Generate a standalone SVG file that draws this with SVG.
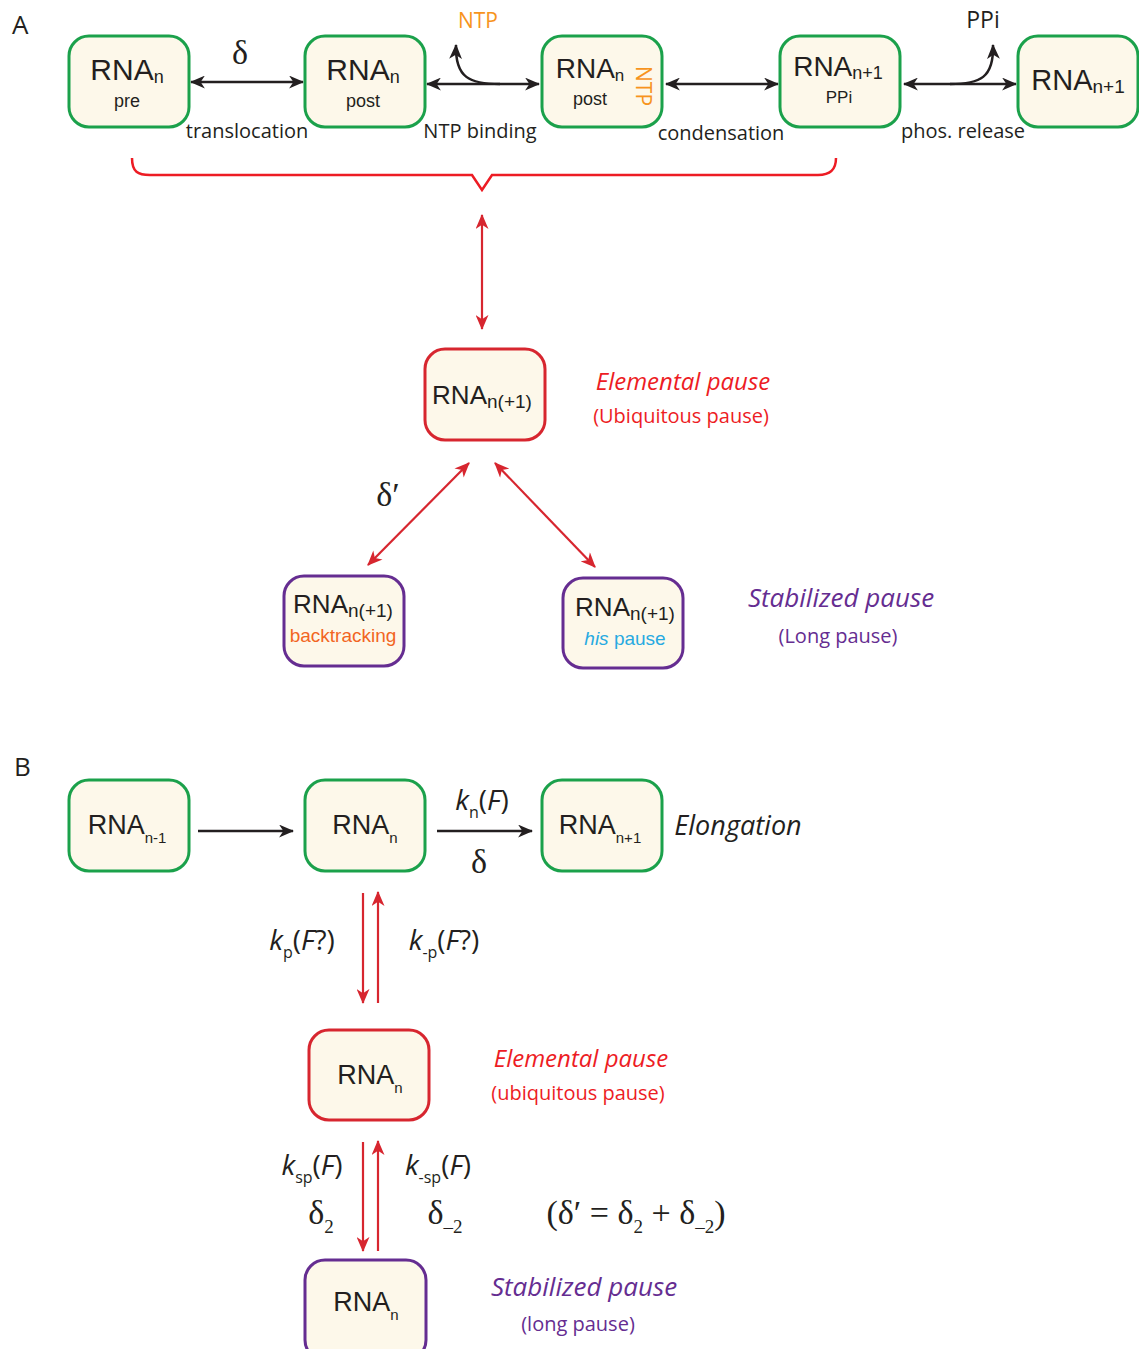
<svg xmlns="http://www.w3.org/2000/svg" width="1139" height="1349" viewBox="0 0 1139 1349">
<defs>
<marker id="ab" viewBox="0 0 14 12" refX="13" refY="6" markerWidth="15" markerHeight="13" markerUnits="userSpaceOnUse" orient="auto-start-reverse"><path d="M0,0 L14,6 L0,12 L4,6 Z" fill="#231f20"/></marker>
<marker id="ar" viewBox="0 0 14 12" refX="13" refY="6" markerWidth="16" markerHeight="13" markerUnits="userSpaceOnUse" orient="auto-start-reverse"><path d="M0,0 L14,6 L0,12 L4,6 Z" fill="#d7262f"/></marker>
</defs>
<style>
.box{fill:#fdf8ea;stroke-width:3}
.g{stroke:#1ba14b}.r{stroke:#d7262f}.p{stroke:#652d91}
.rna{font-family:"Liberation Sans",Arial,sans-serif;fill:#231f20}
.lab{font-family:"Open Sans","Noto Sans",sans-serif;fill:#231f20}
.gr{font-family:"Liberation Serif","Times New Roman",serif;fill:#231f20}
.bl{stroke:#231f20;stroke-width:2.5;fill:none}
.rl{stroke:#d7262f;stroke-width:2.2;fill:none}
.it{font-style:italic}
</style>
<rect width="1139" height="1349" fill="#fff"/>
<text class="lab" x="12" y="34" font-size="26">A</text>
<text class="lab" x="14" y="776" font-size="26">B</text>

<g id="connectors">
<line class="bl" x1="191" y1="82" x2="303" y2="82" marker-start="url(#ab)" marker-end="url(#ab)"/>
<line class="bl" x1="427" y1="84" x2="539" y2="84" marker-start="url(#ab)" marker-end="url(#ab)"/>
<path class="bl" d="M500,84 C470,84 455,78 456,45" marker-end="url(#ab)"/>
<line class="bl" x1="666" y1="84" x2="778" y2="84" marker-start="url(#ab)" marker-end="url(#ab)"/>
<line class="bl" x1="904" y1="84" x2="1016" y2="84" marker-start="url(#ab)" marker-end="url(#ab)"/>
<path class="bl" d="M950,84 C980,84 994,78 993,45" marker-end="url(#ab)"/>
<path d="M132,158 C132,172 138,175 150,175 L472,175 L482,190 L492,175 L818,175 C830,175 836,170 836,158" fill="none" stroke="#ed1c24" stroke-width="2.5"/>
<line class="rl" x1="482" y1="215" x2="482" y2="329" marker-start="url(#ar)" marker-end="url(#ar)"/>
<line class="rl" x1="469" y1="463" x2="368" y2="565" marker-start="url(#ar)" marker-end="url(#ar)"/>
<line class="rl" x1="495" y1="463" x2="595" y2="567" marker-start="url(#ar)" marker-end="url(#ar)"/>
<line class="bl" x1="198" y1="831" x2="293" y2="831" marker-end="url(#ab)"/>
<line class="bl" x1="437" y1="831" x2="532" y2="831" marker-end="url(#ab)"/>
<line class="rl" x1="363" y1="893" x2="363" y2="1003" marker-end="url(#ar)"/>
<line class="rl" x1="378" y1="1003" x2="378" y2="892" marker-end="url(#ar)"/>
<line class="rl" x1="363" y1="1142" x2="363" y2="1251" marker-end="url(#ar)"/>
<line class="rl" x1="378" y1="1251" x2="378" y2="1141" marker-end="url(#ar)"/>
</g>

<g id="labels">
<text class="gr" x="240" y="64" font-size="34" text-anchor="middle">δ</text>
<text class="lab" x="247" y="138" font-size="20" text-anchor="middle">translocation</text>
<text class="lab" x="480" y="138" font-size="20" text-anchor="middle">NTP binding</text>
<text class="lab" x="721" y="140" font-size="20" text-anchor="middle">condensation</text>
<text class="lab" x="963" y="138" font-size="20" text-anchor="middle">phos. release</text>
<text class="lab" x="478" y="28" font-size="21" text-anchor="middle" style="fill:#f7941d">NTP</text>
<text class="lab" x="983" y="28" font-size="23" text-anchor="middle">PPi</text>
<text class="lab it" x="683" y="390" font-size="24" text-anchor="middle" style="fill:#ed1c24">Elemental pause</text>
<text class="lab" x="681" y="423" font-size="20" text-anchor="middle" style="fill:#ed1c24">(Ubiquitous pause)</text>
<text class="gr" x="388" y="506" font-size="34" text-anchor="middle">δ′</text>
<text class="lab it" x="841" y="607" font-size="26" text-anchor="middle" style="fill:#652d91">Stabilized pause</text>
<text class="lab" x="838" y="643" font-size="20" text-anchor="middle" style="fill:#652d91">(Long pause)</text>
<text class="lab" x="482" y="810" font-size="28" text-anchor="middle"><tspan class="it">k</tspan><tspan font-size="16" dy="8">n</tspan><tspan dy="-8">(</tspan><tspan class="it">F</tspan>)</text>
<text class="gr" x="479" y="873" font-size="34" text-anchor="middle">δ</text>
<text class="lab it" x="738" y="835" font-size="27" text-anchor="middle">Elongation</text>
<text class="lab" x="302" y="950" font-size="28" text-anchor="middle"><tspan class="it">k</tspan><tspan font-size="16" dy="8">p</tspan><tspan dy="-8">(</tspan><tspan class="it">F</tspan>?)</text>
<text class="lab" x="444" y="950" font-size="28" text-anchor="middle"><tspan class="it">k</tspan><tspan font-size="16" dy="8">-p</tspan><tspan dy="-8">(</tspan><tspan class="it">F</tspan>?)</text>
<text class="lab it" x="581" y="1067" font-size="24" text-anchor="middle" style="fill:#ed1c24">Elemental pause</text>
<text class="lab" x="578" y="1100" font-size="20" text-anchor="middle" style="fill:#ed1c24">(ubiquitous pause)</text>
<text class="lab" x="312" y="1175" font-size="28" text-anchor="middle"><tspan class="it">k</tspan><tspan font-size="16" dy="8">sp</tspan><tspan dy="-8">(</tspan><tspan class="it">F</tspan>)</text>
<text class="lab" x="438" y="1175" font-size="28" text-anchor="middle"><tspan class="it">k</tspan><tspan font-size="16" dy="8">-sp</tspan><tspan dy="-8">(</tspan><tspan class="it">F</tspan>)</text>
<text class="gr" x="321" y="1224" font-size="34" text-anchor="middle">δ<tspan font-size="19" dy="9">2</tspan></text>
<text class="gr" x="445" y="1224" font-size="34" text-anchor="middle">δ<tspan font-size="19" dy="9">–2</tspan></text>
<text class="gr" x="636" y="1224" font-size="34" text-anchor="middle">(δ′ = δ<tspan font-size="19" dy="9">2</tspan><tspan dy="-9"> + δ</tspan><tspan font-size="19" dy="9">–2</tspan><tspan dy="-9">)</tspan></text>
<text class="lab it" x="584" y="1296" font-size="26" text-anchor="middle" style="fill:#652d91">Stabilized pause</text>
<text class="lab" x="578" y="1331" font-size="20" text-anchor="middle" style="fill:#652d91">(long pause)</text>
</g>

<g id="a1"><rect class="box g" x="69" y="36" width="120" height="91" rx="20"/>
<text class="rna" x="127" y="80" font-size="30" text-anchor="middle">RNA<tspan font-size="18" dy="3">n</tspan></text>
<text class="rna" x="127" y="107" font-size="18" text-anchor="middle">pre</text></g>
<g id="a2"><rect class="box g" x="305" y="36" width="120" height="91" rx="20"/>
<text class="rna" x="363" y="80" font-size="30" text-anchor="middle">RNA<tspan font-size="18" dy="3">n</tspan></text>
<text class="rna" x="363" y="107" font-size="18" text-anchor="middle">post</text></g>
<g id="a3"><rect class="box g" x="542" y="36" width="120" height="91" rx="20"/>
<text class="rna" x="590" y="78" font-size="28" text-anchor="middle">RNA<tspan font-size="17" dy="3">n</tspan></text>
<text class="rna" x="590" y="105" font-size="18" text-anchor="middle">post</text>
<text class="lab" x="0" y="0" font-size="21" text-anchor="middle" transform="translate(636,86) rotate(90)" style="fill:#f7941d">NTP</text></g>
<g id="a4"><rect class="box g" x="780" y="36" width="120" height="91" rx="20"/>
<text class="rna" x="838" y="76" font-size="28" text-anchor="middle">RNA<tspan font-size="18" dy="3">n+1</tspan></text>
<text class="rna" x="839" y="103" font-size="17" text-anchor="middle">PPi</text></g>
<g id="a5"><rect class="box g" x="1018" y="36" width="120" height="91" rx="20"/>
<text class="rna" x="1078" y="90" font-size="29" text-anchor="middle">RNA<tspan font-size="19" dy="3">n+1</tspan></text></g>
<g id="ep"><rect class="box r" x="425" y="349" width="120" height="91" rx="20"/>
<text class="rna" x="482" y="404" font-size="26" text-anchor="middle">RNA<tspan font-size="19" dy="4">n(+1)</tspan></text></g>
<g id="bt"><rect class="box p" x="284" y="576" width="120" height="90" rx="20"/>
<text class="rna" x="343" y="613" font-size="26" text-anchor="middle">RNA<tspan font-size="19" dy="4">n(+1)</tspan></text>
<text class="rna" x="343" y="642" font-size="19" text-anchor="middle" style="fill:#f26522">backtracking</text></g>
<g id="hp"><rect class="box p" x="563" y="578" width="120" height="90" rx="20"/>
<text class="rna" x="625" y="616" font-size="26" text-anchor="middle">RNA<tspan font-size="19" dy="4">n(+1)</tspan></text>
<text class="rna" x="625" y="645" font-size="19" text-anchor="middle" style="fill:#27aae1"><tspan font-style="italic">his</tspan> pause</text></g>
<g id="b1"><rect class="box g" x="69" y="780" width="120" height="91" rx="20"/>
<text class="rna" x="127" y="834" font-size="27" text-anchor="middle">RNA<tspan font-size="15" dy="9">n-1</tspan></text></g>
<g id="b2"><rect class="box g" x="305" y="780" width="120" height="91" rx="20"/>
<text class="rna" x="365" y="834" font-size="27" text-anchor="middle">RNA<tspan font-size="15" dy="9">n</tspan></text></g>
<g id="b3"><rect class="box g" x="542" y="780" width="120" height="91" rx="20"/>
<text class="rna" x="600" y="834" font-size="27" text-anchor="middle">RNA<tspan font-size="15" dy="9">n+1</tspan></text></g>
<g id="b4"><rect class="box r" x="309" y="1030" width="120" height="90" rx="20"/>
<text class="rna" x="370" y="1084" font-size="27" text-anchor="middle">RNA<tspan font-size="15" dy="9">n</tspan></text></g>
<g id="b5"><rect class="box p" x="305" y="1260" width="121" height="100" rx="20"/>
<text class="rna" x="366" y="1311" font-size="27" text-anchor="middle">RNA<tspan font-size="15" dy="9">n</tspan></text></g>
</svg>
